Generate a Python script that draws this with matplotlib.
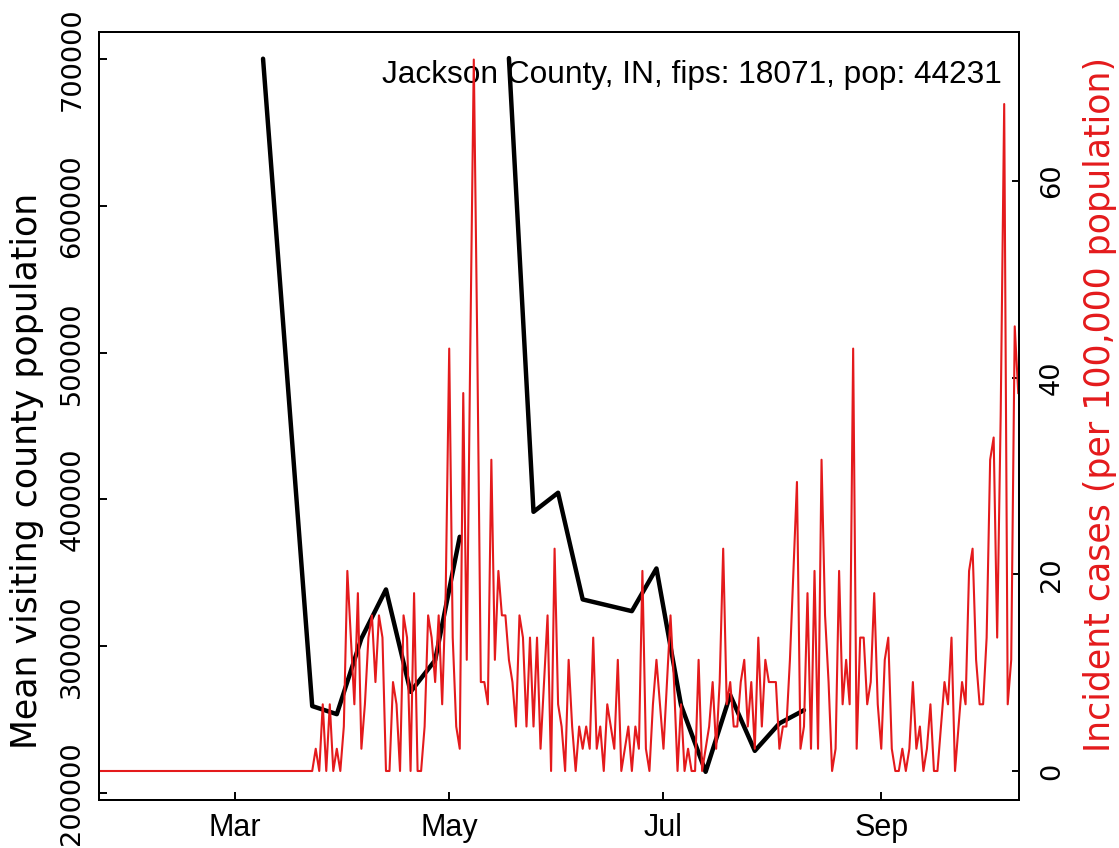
import numpy as np
import matplotlib.pyplot as plt
import matplotlib.dates as mdates

pop = 44231
title = "Jackson County, IN, fips: 18071, pop: 44231"

# weekly mean visiting county population (black line), NaN = missing week
visit_dates = np.array(["2020-03-09", "2020-03-23", "2020-03-30", "2020-04-06",
                        "2020-04-13", "2020-04-20", "2020-04-27", "2020-05-04",
                        "2020-05-11", "2020-05-18", "2020-05-25", "2020-06-01",
                        "2020-06-08", "2020-06-22", "2020-06-29", "2020-07-06",
                        "2020-07-13", "2020-07-20", "2020-07-27", "2020-08-03",
                        "2020-08-10"], dtype="datetime64[D]")
visit_vals = [700400, 259200, 253700, 305300, 338700, 268900, 290500, 374600,
              np.nan, 700800, 391600, 404600, 331900, 323900, 353000, 259800,
              214400, 266700, 228700, 247400, 256400]

# daily new cases (counts), Jan 22 - Oct 10
case_dates = np.arange("2020-01-22", "2020-10-11", dtype="datetime64[D]")
cases = [0] * 62 + [
    1, 0, 3, 0, 3, 0, 1, 0, 2, 9,
    6, 3, 8, 1, 3, 6, 7, 4, 7, 6,
    0, 0, 4, 3, 0, 7, 6, 0, 8, 0,
    0, 2, 7, 6, 4, 7, 3, 8, 19, 6,
    2, 1, 17, 5, 19, 32, 19, 4, 4, 3,
    14, 5, 9, 7, 7, 5, 4, 2, 7, 6,
    2, 6, 2, 6, 1, 4, 7, 0, 10, 3,
    2, 0, 5, 2, 0, 2, 1, 2, 1, 6,
    1, 2, 0, 3, 2, 1, 5, 0, 1, 2,
    0, 2, 1, 9, 1, 0, 3, 5, 3, 1,
    4, 7, 4, 0, 3, 0, 1, 0, 0, 5,
    0, 1, 2, 4, 1, 4, 10, 3, 4, 2,
    2, 4, 5, 2, 4, 1, 6, 2, 5, 4,
    4, 4, 1, 2, 2, 5, 9, 13, 1, 2,
    8, 1, 9, 1, 14, 7, 4, 0, 1, 9,
    3, 5, 3, 19, 1, 6, 6, 3, 4, 8,
    3, 1, 5, 6, 1, 0, 0, 1, 0, 1,
    4, 1, 2, 0, 1, 3, 0, 0, 2, 4,
    3, 6, 0, 2, 4, 3, 9, 10, 5, 3,
    3, 6, 14, 15, 6, 16, 30, 3, 5, 20,
    17]
incidence = np.array(cases) * 100000 / pop

month_ticks = np.array(["2020-03-01", "2020-05-01", "2020-07-01", "2020-09-01"],
                       dtype="datetime64[D]")
month_labels = ["Mar", "May", "Jul", "Sep"]
left_ticks = [200000, 300000, 400000, 500000, 600000, 700000]
right_ticks = [0, 20, 40, 60]

red = "#E41A1C"
sans = "Liberation Sans"
rot = "DejaVu Sans"

fig = plt.figure(figsize=(11.19, 8.48), dpi=100)
ax = fig.add_axes([99 / 1119, 48 / 848, 920.3 / 1119, 768 / 848])
ax2 = ax.twinx()

ax.plot(visit_dates, visit_vals, color="black", lw=3.2,
        solid_joinstyle="round", solid_capstyle="round")
ax2.plot(case_dates, incidence, color=red, lw=1.5, solid_joinstyle="round")

x0 = mdates.date2num(np.datetime64("2020-01-22")) + 0.3
x1 = mdates.date2num(np.datetime64("2020-10-10")) + 0.3
ax.set_xlim(x0, x1)
ax.set_ylim(195200, 718600)
ax2.set_ylim(-2.95, 75.15)

ax.set_xticks(mdates.date2num(month_ticks), month_labels,
              fontsize=22, family=sans)
ax.set_yticks(left_ticks, [str(t) for t in left_ticks], rotation=90,
              va="center", fontsize=19.6, family=rot)
ax2.set_yticks(right_ticks, [str(t) for t in right_ticks], rotation=90,
               va="center", fontsize=19.6, family=rot)

ax.tick_params(axis="x", direction="in", length=5.8, width=1.4, pad=9.4)
ax.tick_params(axis="y", direction="in", length=5.8, width=1.4, pad=9.8)
ax2.tick_params(axis="y", direction="in", length=5.4, width=1.4, pad=14.3)
for a in (ax, ax2):
    for s in a.spines.values():
        s.set_linewidth(1.4)

ax.text((1002 - 99) / 920.3, (800 - 83) / 768, title, transform=ax.transAxes,
        ha="right", va="baseline", fontsize=22.8, family=sans)

fig.text(37.3 / 1119, (848 - 471) / 848, "Mean visiting county population",
         rotation=90, rotation_mode="anchor", ha="center", va="baseline",
         fontsize=25, family=rot)
fig.text(1110 / 1119, (848 - 405) / 848, "Incident cases (per 100,000 population)",
         rotation=90, rotation_mode="anchor", ha="center", va="baseline",
         fontsize=25, family=rot, color=red)

fig.savefig("out.png", dpi=100)
